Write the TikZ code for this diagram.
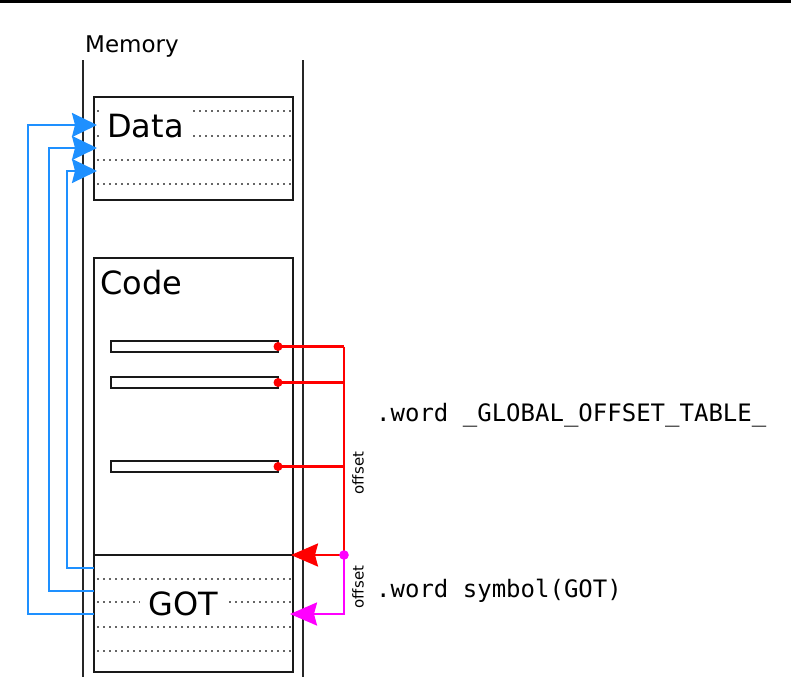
\documentclass[tikz,border=0pt]{standalone}
\usepackage{fontspec}
\setmainfont{DejaVu Sans}
\setmonofont{DejaVu Sans Mono}
\usetikzlibrary{arrows.meta,calc,positioning}
\definecolor{gotblue}{RGB}{30,144,255}
\definecolor{gotred}{RGB}{255,0,0}
\definecolor{gotpink}{RGB}{255,0,255}
\tikzset{
    memwall/.style={line width=2.4pt,draw=black!85},
    membox/.style={draw=black!90,line width=2.4pt},
    slotrow/.style={draw=black!60,line width=1.8pt,dash pattern=on 1.8pt off 4.2pt},
    insbar/.style={draw=black!90,line width=2.2pt,fill=white},
    bluelink/.style={draw=gotblue,line width=2.4pt,-{Stealth[length=25pt,width=24pt,inset=3pt]}},
    redlink/.style={draw=gotred,line width=2.4pt},
    pinklink/.style={draw=gotpink,line width=2.4pt},
    every node/.style={inner sep=0pt}
}

\begin{document}
\begin{tikzpicture}[x=1pt,y=-1pt]
  \useasboundingbox (0,0) rectangle (791,697);
  \fill[black] (0,0) rectangle (791,3);

  % memory walls
  \coordinate (wallL) at (83,60);
  \coordinate (wallR) at (303,60);
  \draw[memwall] (wallL) -- ++(0,617);
  \draw[memwall] (wallR) -- ++(0,617);
  \node[anchor=base west,font=\fontsize{23}{26}\selectfont] (memlbl) at (85,52) {Memory};

  % data segment
  \foreach \y in {111,136,160,184}{
    \draw[slotrow] (97,\y) -- (291,\y);
  }
  \draw[membox] (94,97) rectangle (293,200);
  \node[anchor=base west,fill=white,inner xsep=5pt,inner ysep=6pt,
        font=\fontsize{32}{36}\selectfont] (datalbl) at (102,137) {Data};

  % code segment and GOT
  \foreach \y in {579,602,627,651}{
    \draw[slotrow] (97,\y) -- (291,\y);
  }
  \draw[membox] (94,258) rectangle (293,672);
  \draw[membox] (94,555) -- (293,555);
  \node[anchor=base west,font=\fontsize{32}{36}\selectfont] (codelbl) at (100,294) {Code};
  \node[anchor=base west,fill=white,inner xsep=8pt,inner ysep=4pt,
        font=\fontsize{32}{36}\selectfont] (gotlbl) at (140,615) {GOT};

  % instructions
  \coordinate (fork) at (344,555);
  \foreach \i/\y in {1/346.5,2/382.5,3/466.5}{
    \draw[insbar] (111,\y-5.5) rectangle (278,\y+5.5);
    \coordinate (bar\i) at (278,\y);
  }
  \foreach \i in {1,2,3}{
    \draw[redlink] (bar\i) -- (bar\i -| fork);
    \fill[gotred] (bar\i) circle (4.5pt);
  }
  \draw[redlink] (bar1 -| fork) -- (fork);
  \coordinate (gottop) at (291,555);
  \coordinate (gotslot) at (290,614);
  \draw[redlink,-{Stealth[length=27pt,width=23pt,inset=3pt]}] (fork) -- (gottop);
  \draw[pinklink,-{Stealth[length=27pt,width=23pt,inset=3pt]}] (fork) |- (gotslot);
  \fill[gotpink] (fork) circle (4.8pt);

  \node[rotate=90,font=\fontsize{15}{17}\selectfont] (offa) at (358,473) {offset};
  \node[rotate=90,font=\fontsize{15}{17}\selectfont] (offb) at (358,587) {offset};

  \node[anchor=base west,font=\ttfamily\fontsize{24}{28}\selectfont] (gotword) at (376,421) {.word \_GLOBAL\_OFFSET\_TABLE\_};
  \node[anchor=base west,font=\ttfamily\fontsize{24}{28}\selectfont] (symword) at (376,597) {.word symbol(GOT)};

  % GOT entries pointing into data
  \coordinate (gotA) at (94,568);
  \coordinate (gotB) at (94,591);
  \coordinate (gotC) at (94,614);
  \coordinate (dataA) at (97,171);
  \coordinate (dataB) at (97,148);
  \coordinate (dataC) at (97,125);
  \draw[bluelink] (gotA) -- (67,568) |- (dataA);
  \draw[bluelink] (gotB) -- (49,591) |- (dataB);
  \draw[bluelink] (gotC) -- (28,614) |- (dataC);
\end{tikzpicture}
\end{document}
